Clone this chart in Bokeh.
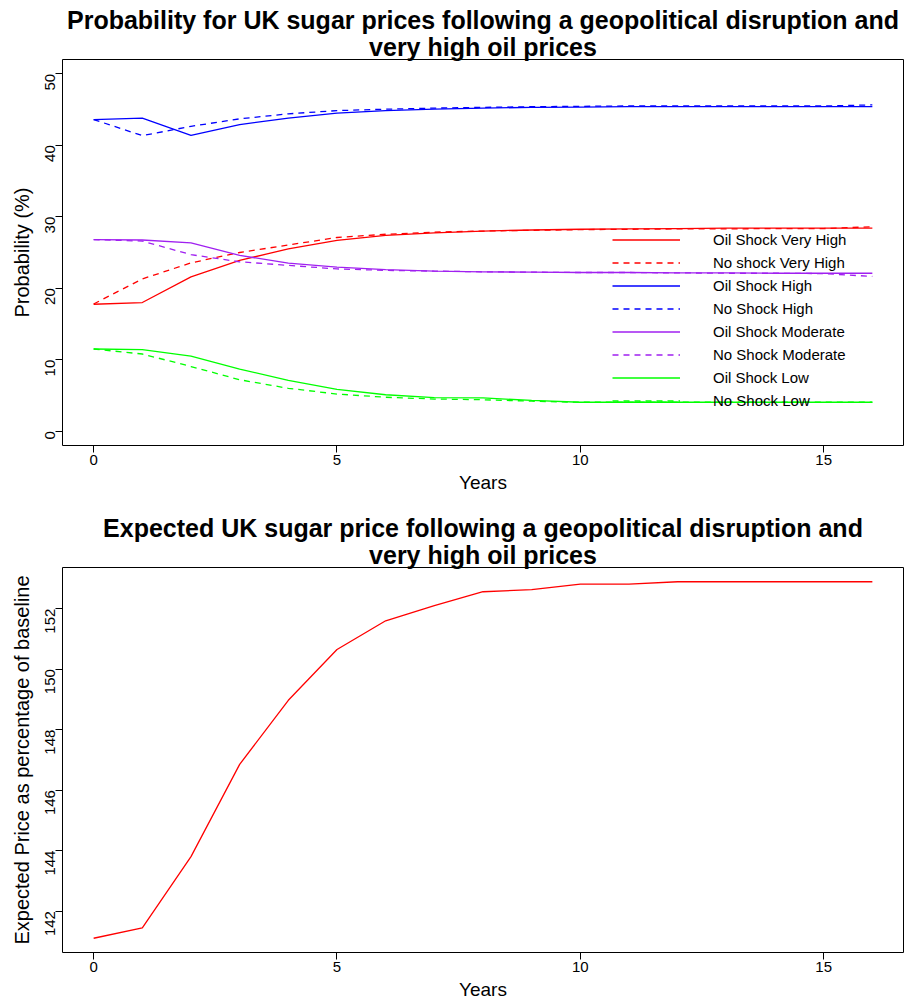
import math
from bokeh.plotting import figure
from bokeh.models import Range1d, FixedTicker, Legend, LegendItem, Title
from bokeh.layouts import column
from bokeh.embed import file_html
from bokeh.resources import INLINE

# ---------------- data ----------------
years = list(range(17))

oil_shock_very_high = [17.76, 18.0, 21.6, 23.9, 25.5, 26.7, 27.4, 27.75, 28.0, 28.15, 28.25, 28.3, 28.35, 28.4, 28.4, 28.4, 28.4]
no_shock_very_high = [17.8, 21.3, 23.55, 25.0, 26.05, 27.1, 27.55, 27.85, 28.0, 28.1, 28.2, 28.25, 28.3, 28.3, 28.35, 28.35, 28.6]
oil_shock_high = [43.6, 43.8, 41.4, 42.9, 43.8, 44.5, 44.85, 45.05, 45.2, 45.3, 45.35, 45.4, 45.4, 45.4, 45.4, 45.4, 45.4]
no_shock_high = [43.6, 41.35, 42.65, 43.7, 44.4, 44.85, 45.05, 45.2, 45.3, 45.4, 45.45, 45.5, 45.5, 45.5, 45.5, 45.5, 45.65]
oil_shock_moderate = [26.8, 26.75, 26.35, 24.6, 23.5, 22.95, 22.6, 22.4, 22.3, 22.25, 22.2, 22.2, 22.15, 22.15, 22.1, 22.1, 22.1]
no_shock_moderate = [26.8, 26.6, 24.7, 23.7, 23.2, 22.7, 22.5, 22.4, 22.3, 22.25, 22.2, 22.2, 22.15, 22.1, 22.1, 22.05, 21.65]
oil_shock_low = [11.5, 11.4, 10.5, 8.7, 7.1, 5.85, 5.1, 4.7, 4.65, 4.3, 4.05, 4.05, 4.05, 4.05, 4.05, 4.05, 4.05]
no_shock_low = [11.5, 10.8, 9.05, 7.2, 6.0, 5.2, 4.75, 4.5, 4.4, 4.2, 4.05, 4.05, 4.05, 4.05, 4.05, 4.05, 4.05]

expected_price = [141.1, 141.44, 143.8, 146.85, 148.97, 150.65, 151.6, 152.1, 152.56, 152.63, 152.81, 152.81, 152.89, 152.89, 152.89, 152.89, 152.89]

legend_labels = ["Oil Shock Very High", "No shock Very High", "Oil Shock High", "No Shock High",
                 "Oil Shock Moderate", "No Shock Moderate", "Oil Shock Low", "No Shock Low"]
x_ticks = [0, 5, 10, 15]
prob_ticks = [0, 10, 20, 30, 40, 50]
price_ticks = [142, 144, 146, 148, 150, 152]

title1 = ["Probability for UK sugar prices following a geopolitical disruption and", "very high oil prices"]
title2 = ["Expected UK sugar price following a geopolitical disruption and", "very high oil prices"]

FONT = "Liberation Sans"
RED, BLUE, PURPLE, GREEN = "#FF0000", "#0000FF", "#A020F0", "#00FF00"
DASH = "6 5"


def r_range(lo, hi):
    d = (hi - lo) * 0.04
    return Range1d(lo - d, hi + d)


def style(p, yticks, xlab, ylab):
    for ax in (p.xaxis[0], p.yaxis[0]):
        ax.axis_line_color = None
        ax.major_tick_line_color = "black"
        ax.major_tick_out = 7
        ax.major_tick_in = 0
        ax.minor_tick_line_color = None
        ax.major_label_text_font = FONT
        ax.major_label_text_font_size = "15px"
        ax.major_label_text_color = "black"
        ax.axis_label_text_font = FONT
        ax.axis_label_text_font_style = "normal"
        ax.axis_label_text_color = "black"
    p.xaxis.axis_label_text_font_size = "19px"
    p.yaxis.axis_label_text_font_size = "20px"
    p.xaxis.major_label_standoff = 2
    p.yaxis.major_label_standoff = 5
    p.xaxis.axis_label = xlab
    p.yaxis.axis_label = ylab
    p.xaxis.axis_label_standoff = 4
    p.yaxis.axis_label_standoff = 5
    p.xaxis.ticker = FixedTicker(ticks=x_ticks)
    p.yaxis.ticker = FixedTicker(ticks=yticks)
    p.yaxis.major_label_orientation = math.pi / 2
    p.grid.visible = False
    p.outline_line_color = "black"
    p.outline_line_width = 1
    p.background_fill_color = "white"
    p.border_fill_color = "white"


def add_titles(p, lines):
    # closest to the frame first
    for txt in reversed(lines):
        p.add_layout(Title(text=txt, align="center", vertical_align="bottom", standoff=-3,
                           text_font=FONT, text_font_size="25px", text_font_style="bold",
                           text_color="black"), "above")


# ---------------- top plot ----------------
p1 = figure(width=904, height=505, output_backend="svg", toolbar_location=None, title=None,
            x_range=r_range(0, 16), y_range=Range1d(-2, 52),
            min_border_left=62, min_border_right=1, min_border_top=59, min_border_bottom=60)
style(p1, prob_ticks, "Years", "Probability (%)")

series = [
    (oil_shock_very_high, RED, "solid"),
    (no_shock_very_high, RED, DASH),
    (oil_shock_high, BLUE, "solid"),
    (no_shock_high, BLUE, DASH),
    (oil_shock_moderate, PURPLE, "solid"),
    (no_shock_moderate, PURPLE, DASH),
    (oil_shock_low, GREEN, "solid"),
    (no_shock_low, GREEN, DASH),
]
items = []
for (ys, color, dash), name in zip(series, legend_labels):
    r = p1.line(years, ys, line_color=color, line_width=1.3, line_dash=dash)
    items.append(LegendItem(label=name, renderers=[r]))

legend = Legend(items=items, location=(550, 33), glyph_width=68, glyph_height=23,
                label_height=23, label_standoff=33, spacing=0, padding=0, margin=0,
                background_fill_alpha=0, border_line_alpha=0,
                label_text_font=FONT, label_text_font_size="15px", label_text_color="black")
p1.add_layout(legend, "center")
add_titles(p1, title1)

# ---------------- bottom plot ----------------
yr2 = r_range(min(expected_price), max(expected_price))
p2 = figure(width=904, height=497, output_backend="svg", toolbar_location=None, title=None,
            x_range=r_range(0, 16), y_range=yr2,
            min_border_left=62, min_border_right=1, min_border_top=62, min_border_bottom=49)
style(p2, price_ticks, "Years", "Expected Price as percentage of baseline")
p2.line(years, expected_price, line_color=RED, line_width=1.3)
add_titles(p2, title2)

layout = column(p1, p2, spacing=0)
open("out.html", "w").write(file_html(layout, INLINE))
